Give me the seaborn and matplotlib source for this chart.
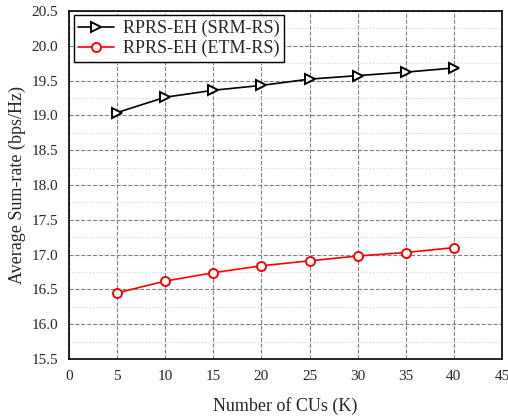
import numpy as np
import pandas as pd
import matplotlib
matplotlib.use("Agg")
import matplotlib.pyplot as plt
import seaborn as sns
from matplotlib.ticker import MultipleLocator

num_cus = [5, 10, 15, 20, 25, 30, 35, 40]
srm_rs = [19.04, 19.26, 19.36, 19.43, 19.52, 19.57, 19.62, 19.68]
etm_rs = [16.45, 16.62, 16.74, 16.84, 16.91, 16.98, 17.03, 17.10]

labels = ["RPRS-EH (SRM-RS)", "RPRS-EH (ETM-RS)"]
colors = ["black", "red"]
markers = [">", "o"]

sns.set_style("white")
plt.rcParams["font.family"] = ["Liberation Serif", "DejaVu Serif"]

fig, ax = plt.subplots(figsize=(5.08, 4.18), dpi=100)
for vals, lab, c, m in zip([srm_rs, etm_rs], labels, colors, markers):
    sns.lineplot(x=num_cus, y=vals, color=c, marker=m, markersize=6.5,
                 markerfacecolor="white", markeredgecolor=c, markeredgewidth=1.4,
                 linewidth=1.2, label=lab, ax=ax)

ax.set_xlim(0, 45)
ax.set_ylim(15.5, 20.5)
ax.xaxis.set_major_locator(MultipleLocator(5))
ax.yaxis.set_major_locator(MultipleLocator(0.5))
ax.yaxis.set_minor_locator(MultipleLocator(0.25))
ax.grid(which="major", linestyle="--", color="gray", linewidth=0.8)
ax.grid(which="minor", axis="y", linestyle=":", color="lightgray", linewidth=0.8)
ax.set_axisbelow(True)
for s in ax.spines.values():
    s.set_color("black")
    s.set_linewidth(1.2)
ax.tick_params(labelsize=11, length=0, which="both", pad=8)
ax.set_xlabel("Number of CUs (K)", fontsize=13, labelpad=10)
ax.set_ylabel("Average Sum-rate (bps/Hz)", fontsize=13)

leg = ax.legend(loc="upper left", fontsize=13, fancybox=False, edgecolor="black",
                framealpha=1, borderaxespad=0.25, handlelength=2.0,
                labelspacing=0.15, borderpad=0.25, handletextpad=0.5)
leg.get_frame().set_linewidth(1.0)

fig.subplots_adjust(left=0.136, right=0.988, top=0.974, bottom=0.141)
fig.savefig("out.png", dpi=100)
